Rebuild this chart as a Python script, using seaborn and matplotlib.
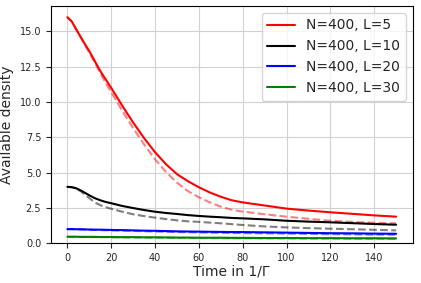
import pandas as pd
import seaborn as sns
import matplotlib.pyplot as plt

# time points (in 1/Gamma)
t = [0, 2, 4, 6, 8, 10, 12.5, 15, 17.5, 20, 25, 30, 35, 40, 45, 50, 55, 60,
     65, 70, 75, 80, 90, 100, 110, 120, 130, 140, 150]

# solid curves
l5 = [16.0, 15.7, 15.15, 14.62, 14.1, 13.6, 12.9, 12.2, 11.6, 11.0, 9.75, 8.55,
      7.45, 6.45, 5.6, 4.9, 4.4, 3.97, 3.6, 3.3, 3.05, 2.9, 2.68, 2.46, 2.32,
      2.2, 2.09, 1.98, 1.89]
l10 = [4.0, 3.98, 3.9, 3.75, 3.58, 3.4, 3.2, 3.05, 2.93, 2.84, 2.65, 2.5, 2.36,
       2.24, 2.15, 2.08, 2.0, 1.94, 1.89, 1.85, 1.8, 1.77, 1.7, 1.6, 1.54, 1.49,
       1.43, 1.37, 1.32]
l20 = [1.01, 1.01, 1.0, 1.0, 0.99, 0.98, 0.97, 0.97, 0.96, 0.95, 0.94, 0.92,
       0.9, 0.89, 0.87, 0.85, 0.84, 0.83, 0.82, 0.81, 0.8, 0.8, 0.78, 0.76,
       0.74, 0.72, 0.71, 0.69, 0.68]
l30 = [0.47, 0.47, 0.47, 0.46, 0.46, 0.46, 0.46, 0.45, 0.45, 0.45, 0.44, 0.44,
       0.43, 0.43, 0.42, 0.41, 0.41, 0.4, 0.4, 0.4, 0.39, 0.39, 0.38, 0.38,
       0.37, 0.37, 0.36, 0.36, 0.35]

# dashed curves
d5 = [16.0, 15.7, 15.15, 14.6, 14.05, 13.5, 12.8, 12.05, 11.35, 10.7, 9.4, 8.15,
      7.0, 5.95, 5.05, 4.3, 3.7, 3.26, 2.9, 2.6, 2.38, 2.25, 2.06, 1.89, 1.74,
      1.6, 1.52, 1.46, 1.42]
d10 = [4.0, 3.97, 3.88, 3.7, 3.45, 3.2, 2.9, 2.7, 2.56, 2.45, 2.24, 2.06, 1.93,
       1.82, 1.72, 1.63, 1.56, 1.52, 1.47, 1.42, 1.36, 1.3, 1.2, 1.13, 1.08,
       1.04, 1.0, 0.96, 0.92]
d20 = [1.0, 1.0, 0.99, 0.98, 0.97, 0.96, 0.95, 0.94, 0.93, 0.92, 0.9, 0.88,
       0.86, 0.84, 0.82, 0.8, 0.79, 0.77, 0.76, 0.75, 0.74, 0.73, 0.71, 0.69,
       0.67, 0.65, 0.64, 0.62, 0.61]
d30 = [0.46, 0.46, 0.46, 0.45, 0.45, 0.45, 0.44, 0.44, 0.44, 0.43, 0.42, 0.42,
       0.41, 0.4, 0.4, 0.39, 0.38, 0.38, 0.37, 0.37, 0.36, 0.36, 0.35, 0.35,
       0.34, 0.34, 0.33, 0.33, 0.32]

labels = ["N=400, L=5", "N=400, L=10", "N=400, L=20", "N=400, L=30"]
colors = ["red", "black", "blue", "green"]

sns.set_style("ticks", {"axes.grid": True, "grid.color": ".82"})

fig, ax = plt.subplots(figsize=(4.21, 2.83), dpi=100)
fig.subplots_adjust(left=0.121, right=0.98, top=0.979, bottom=0.14)

for sol, das, lab, col in zip([l5, l10, l20, l30], [d5, d10, d20, d30], labels, colors):
    df = pd.DataFrame({"t": t, "solid": sol, "dashed": das})
    sns.lineplot(data=df, x="t", y="dashed", color=col, linestyle="--",
                 alpha=0.5, linewidth=1.5, ax=ax, legend=False)
    sns.lineplot(data=df, x="t", y="solid", color=col, linewidth=1.5,
                 ax=ax, label=lab)

ax.set_ylim(0, 16.8)
ax.set_xticks(range(0, 141, 20))
ax.set_yticks([0, 2.5, 5, 7.5, 10, 12.5, 15])
ax.set_yticklabels(["0.0", "2.5", "5.0", "7.5", "10.0", "12.5", "15.0"])
ax.tick_params(labelsize=7)
ax.set_xlabel("Time in 1/Γ", fontsize=10, labelpad=1)
ax.set_ylabel("Available density", fontsize=10)
ax.legend(loc="upper right", fontsize=10)
for s in ax.spines.values():
    s.set_color("black")

fig.savefig("out.png", dpi=100)
